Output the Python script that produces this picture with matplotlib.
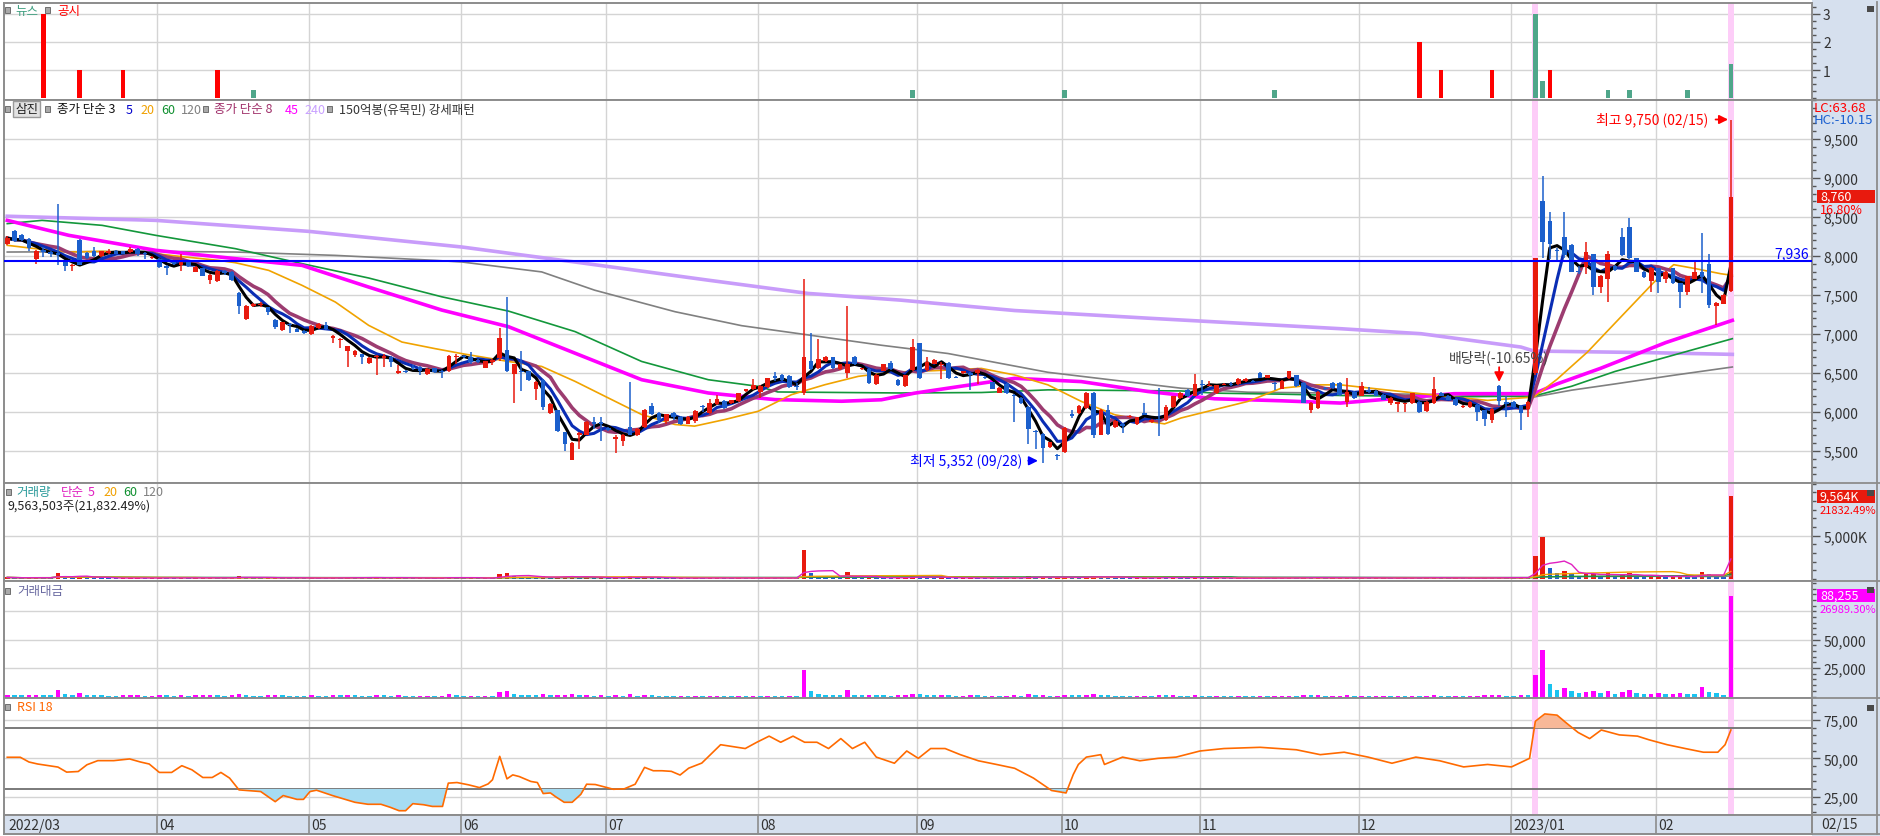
import numpy as np
import pandas as pd
import matplotlib
matplotlib.use("Agg")
import matplotlib.pyplot as plt
from matplotlib.patches import Rectangle
from matplotlib.lines import Line2D
from matplotlib.ticker import FixedLocator, MultipleLocator, FixedFormatter

plt.rcParams['font.family'] = ['Noto Sans CJK KR', 'DejaVu Sans']

# ------------------------------------------------------------------ data
month_starts = [0, 21, 42, 63, 83, 104, 126, 146, 165, 187, 208, 228]
month_labels = ['2022/03', '04', '05', '06', '07', '08', '09', '10', '11', '12', '2023/01', '02']
last_date_label = '02/15'

opens = [
    8150, 8320, 8270, 8220, 7960, 8080, 8050, 8040, 7930, 7870,
    8210, 8040, 8060, 8000, 8040, 8060, 8060, 8050, 8090, 8040,
    7970, 7960, 7870, 7930, 7880, 7930, 7800, 7840, 7690, 7680,
    7810, 7800, 7530, 7190, 7360, 7370, 7340, 7180, 7050, 7130,
    7070, 7040, 7000, 7080, 7110, 6950, 6920, 6780, 6730, 6740,
    6630, 6700, 6700, 6710, 6500, 6530, 6580, 6580, 6490, 6560,
    6530, 6530, 6700, 6720, 6700, 6670, 6570, 6640, 6690, 6790,
    6490, 6530, 6520, 6300, 6410, 5990, 6020, 5740, 5390, 5710,
    5710, 5870, 5870, 5800, 5660, 5630, 5810, 5710, 5810, 6080,
    5990, 5880, 5990, 5940, 5850, 5890, 6080, 5990, 6100, 6140,
    6110, 6140, 6270, 6290, 6260, 6320, 6460, 6480, 6460, 6330,
    6250, 6650, 6560, 6650, 6700, 6550, 6500, 6710, 6550, 6550,
    6360, 6530, 6630, 6410, 6330, 6540, 6880, 6540, 6620, 6600,
    6630, 6450, 6500, 6500, 6500, 6450, 6380, 6250, 6360, 6220,
    6180, 6070, 5760, 5720, 5550, 5450, 5490, 5970, 5990, 6050,
    6250, 5710, 6030, 5810, 5850, 5930, 5840, 5980, 5870, 5910,
    5900, 6060, 6180, 6280, 6210, 6360, 6340, 6240, 6350, 6360,
    6360, 6400, 6400, 6500, 6440, 6370, 6300, 6430, 6470, 6370,
    6030, 6050, 6310, 6370, 6370, 6130, 6260, 6210, 6280, 6270,
    6220, 6110, 6110, 6100, 6110, 6130, 6010, 6110, 6240, 6210,
    6170, 6060, 6060, 6090, 6020, 5900, 6330, 6120, 6130, 6080,
    6040, 6500, 8710, 8450, 8080, 8240, 8140, 7810, 7860, 8020,
    7600, 7710, 7870, 8240, 8370, 7970, 7800, 7680, 7840, 7710,
    7840, 7650, 7540, 7710, 7800, 7900, 7360, 7390, 7550]

highs = [
    8260, 8330, 8280, 8230, 8080, 8120, 8060, 8670, 7940, 7900,
    8220, 8050, 8110, 8070, 8090, 8080, 8070, 8110, 8100, 8050,
    8000, 7970, 7880, 7940, 8030, 7940, 7870, 7850, 7770, 7820,
    7820, 7810, 7540, 7370, 7400, 7410, 7350, 7190, 7160, 7140,
    7080, 7050, 7110, 7140, 7150, 6990, 6950, 6850, 6790, 6750,
    6700, 6730, 6740, 6720, 6600, 6540, 6600, 6590, 6560, 6570,
    6540, 6730, 6750, 6730, 6770, 6680, 6660, 6680, 7080, 7470,
    6620, 6780, 6530, 6400, 6420, 6110, 6030, 5750, 5610, 5740,
    5880, 5930, 5940, 5810, 5700, 5720, 6380, 5790, 6040, 6120,
    6000, 5980, 6000, 5950, 5950, 6020, 6090, 6170, 6220, 6150,
    6160, 6250, 6300, 6420, 6340, 6440, 6510, 6490, 6470, 6370,
    7700, 7010, 6930, 6720, 6710, 6620, 7360, 6720, 6570, 6560,
    6490, 6620, 6660, 6420, 6480, 6930, 6890, 6700, 6680, 6640,
    6640, 6460, 6530, 6510, 6550, 6460, 6390, 6320, 6370, 6230,
    6190, 6080, 5770, 5730, 5620, 5460, 5810, 6030, 6090, 6260,
    6260, 6040, 6090, 5900, 5860, 5960, 5940, 6120, 5910, 6310,
    6090, 6210, 6260, 6290, 6490, 6410, 6400, 6350, 6370, 6380,
    6430, 6430, 6410, 6510, 6480, 6380, 6410, 6530, 6480, 6380,
    6130, 6270, 6320, 6380, 6380, 6430, 6270, 6380, 6320, 6280,
    6230, 6190, 6130, 6120, 6250, 6140, 6140, 6450, 6260, 6220,
    6180, 6090, 6140, 6100, 6030, 6050, 6340, 6210, 6140, 6090,
    6140, 7980, 9030, 8560, 8100, 8560, 8150, 7870, 8180, 8030,
    7760, 8070, 7880, 8360, 8490, 7980, 7810, 7860, 7850, 7810,
    7850, 7660, 7750, 7930, 8300, 8030, 7410, 7510, 9750]

lows = [
    8140, 8180, 8190, 8060, 7900, 7990, 7990, 7890, 7810, 7810,
    7880, 7960, 7990, 7990, 8030, 8020, 8020, 8040, 8000, 7960,
    7960, 7850, 7760, 7880, 7810, 7860, 7790, 7740, 7640, 7670,
    7760, 7680, 7260, 7180, 7350, 7350, 7240, 7060, 7040, 7010,
    7020, 7000, 6990, 7070, 7050, 6880, 6820, 6580, 6700, 6620,
    6620, 6470, 6580, 6580, 6490, 6500, 6540, 6480, 6480, 6500,
    6430, 6510, 6620, 6690, 6620, 6630, 6560, 6600, 6650, 6510,
    6110, 6270, 6400, 6160, 6020, 5980, 5750, 5500, 5380, 5530,
    5700, 5780, 5630, 5760, 5480, 5560, 5700, 5690, 5800, 5960,
    5860, 5850, 5900, 5830, 5840, 5860, 6000, 5980, 6090, 6040,
    6100, 6130, 6260, 6280, 6180, 6310, 6400, 6400, 6310, 6280,
    6220, 6540, 6550, 6640, 6550, 6540, 6440, 6600, 6540, 6360,
    6350, 6520, 6540, 6330, 6320, 6530, 6420, 6530, 6610, 6420,
    6420, 6430, 6490, 6280, 6360, 6420, 6290, 6240, 6230, 5870,
    6100, 5590, 5520, 5352, 5540, 5380, 5480, 5920, 5980, 6040,
    5670, 5700, 5710, 5800, 5730, 5920, 5830, 5960, 5860, 5690,
    5890, 6050, 6170, 6190, 6200, 6220, 6330, 6230, 6340, 6330,
    6350, 6390, 6380, 6430, 6430, 6280, 6290, 6420, 6320, 6110,
    5990, 6040, 6280, 6300, 6210, 6060, 6170, 6200, 6250, 6200,
    6150, 6090, 6000, 6000, 6100, 5990, 6000, 6100, 6200, 6150,
    6080, 6050, 6050, 5890, 5820, 5860, 6080, 5940, 6050, 5770,
    5940, 6480, 7970, 7960, 7920, 7970, 7790, 7770, 7770, 7500,
    7520, 7410, 7810, 8000, 7960, 7790, 7720, 7540, 7520, 7650,
    7640, 7330, 7500, 7700, 7520, 7330, 7110, 7380, 7540]

closes = [
    8230, 8190, 8200, 8100, 8070, 8050, 8020, 8010, 7870, 7890,
    7890, 7970, 8000, 8060, 8060, 8030, 8030, 8090, 8030, 8020,
    7990, 7860, 7850, 7900, 7940, 7870, 7860, 7750, 7760, 7810,
    7780, 7690, 7360, 7360, 7380, 7390, 7280, 7090, 7150, 7110,
    7030, 7010, 7100, 7130, 7060, 6980, 6940, 6840, 6780, 6700,
    6690, 6720, 6710, 6640, 6530, 6510, 6560, 6520, 6550, 6510,
    6510, 6720, 6720, 6700, 6640, 6640, 6650, 6670, 6950, 6520,
    6610, 6510, 6410, 6390, 6070, 6100, 5760, 5590, 5600, 5730,
    5870, 5840, 5840, 5770, 5680, 5710, 5710, 5780, 6030, 5970,
    5900, 5970, 5930, 5850, 5940, 6010, 6060, 6110, 6170, 6050,
    6150, 6240, 6290, 6350, 6330, 6430, 6440, 6410, 6320, 6320,
    6700, 6550, 6680, 6700, 6560, 6610, 6610, 6610, 6560, 6370,
    6480, 6610, 6550, 6340, 6470, 6830, 6430, 6640, 6670, 6620,
    6440, 6440, 6520, 6480, 6540, 6430, 6300, 6310, 6240, 6210,
    6110, 5780, 5750, 5540, 5610, 5440, 5800, 5950, 6080, 6250,
    5710, 6030, 5720, 5890, 5820, 5950, 5930, 5970, 5900, 5900,
    6060, 6200, 6250, 6200, 6360, 6340, 6350, 6340, 6360, 6340,
    6420, 6420, 6390, 6440, 6470, 6360, 6400, 6520, 6330, 6120,
    6120, 6260, 6290, 6310, 6220, 6260, 6180, 6330, 6260, 6210,
    6160, 6180, 6120, 6110, 6240, 6000, 6130, 6300, 6210, 6160,
    6090, 6080, 6130, 6000, 5910, 6040, 6140, 6110, 6060, 5990,
    6130, 7970, 8180, 8160, 8060, 8010, 7800, 7800, 8050, 7600,
    7750, 8030, 7820, 8010, 7970, 7800, 7730, 7850, 7670, 7800,
    7650, 7540, 7740, 7800, 7730, 7370, 7400, 7500, 8760]

# volume, thousand shares
volume_k = [
    180, 150, 120, 160, 200, 140, 120, 650, 260, 150,
    380, 200, 150, 120, 100, 90, 110, 130, 140, 100,
    110, 160, 150, 100, 170, 110, 120, 140, 150, 130,
    100, 140, 330, 220, 110, 100, 130, 200, 150, 120,
    110, 90, 130, 110, 100, 150, 140, 230, 160, 130,
    120, 180, 140, 130, 200, 100, 90, 110, 120, 100,
    130, 280, 150, 110, 120, 100, 120, 110, 520, 650,
    380, 260, 180, 170, 300, 200, 260, 280, 330, 200,
    220, 150, 190, 110, 170, 140, 360, 130, 250, 150,
    120, 110, 100, 110, 100, 120, 110, 130, 140, 110,
    100, 120, 110, 140, 120, 130, 110, 100, 120, 100,
    3300, 750, 380, 200, 180, 150, 820, 250, 140, 180,
    150, 140, 130, 150, 160, 330, 280, 180, 150, 170,
    160, 100, 110, 150, 140, 100, 120, 110, 130, 170,
    130, 300, 200, 260, 150, 160, 280, 200, 160, 220,
    320, 260, 240, 150, 130, 110, 120, 140, 100, 230,
    170, 180, 140, 130, 200, 120, 100, 110, 100, 90,
    110, 100, 90, 120, 100, 110, 120, 130, 120, 170,
    150, 160, 100, 110, 130, 170, 110, 140, 100, 100,
    110, 100, 120, 110, 140, 120, 130, 200, 110, 100,
    110, 90, 100, 130, 150, 160, 190, 140, 110, 170,
    150, 2600, 4850, 1300, 700, 900, 650, 380, 550, 620,
    400, 640, 300, 520, 700, 380, 260, 330, 360, 240,
    300, 380, 290, 260, 820, 520, 420, 230, 9564]

# trading value, million KRW
amount_m = [
    1480, 1230, 990, 1300, 1610, 1130, 970, 5400, 2050, 1180,
    3050, 1600, 1200, 970, 800, 720, 890, 1050, 1130, 800,
    880, 1260, 1170, 790, 1340, 870, 940, 1090, 1160, 1010,
    780, 1090, 2450, 1600, 810, 740, 950, 1430, 1070, 850,
    780, 630, 920, 780, 710, 1040, 970, 1570, 1080, 870,
    800, 1200, 930, 860, 1310, 650, 590, 720, 790, 650,
    850, 1860, 1010, 740, 800, 670, 790, 730, 3530, 4500,
    2450, 1700, 1160, 1070, 1880, 1210, 1530, 1600, 1830, 1130,
    1270, 870, 1100, 640, 950, 790, 2100, 740, 1470, 900,
    710, 650, 590, 650, 590, 710, 660, 780, 850, 670,
    610, 740, 690, 880, 760, 830, 710, 650, 770, 640,
    23700, 5000, 2520, 1340, 1190, 990, 5600, 1660, 920, 1160,
    970, 920, 860, 960, 1030, 2220, 1850, 1190, 1000, 1120,
    1040, 640, 720, 970, 910, 640, 760, 700, 820, 1060,
    800, 1780, 1140, 1460, 830, 870, 1570, 1190, 960, 1360,
    1910, 1530, 1400, 880, 760, 650, 710, 830, 590, 1400,
    1020, 1110, 870, 810, 1260, 760, 640, 700, 640, 570,
    700, 640, 580, 770, 640, 700, 760, 840, 780, 1060,
    910, 1000, 630, 700, 820, 1080, 690, 880, 630, 630,
    680, 610, 730, 670, 860, 730, 800, 1280, 690, 620,
    670, 550, 610, 790, 900, 960, 1180, 850, 670, 1030,
    910, 19300, 40700, 10600, 5700, 7300, 5200, 3000, 4400, 4800,
    3050, 5000, 2350, 4250, 5700, 2990, 2010, 2560, 2790, 1880,
    2330, 2840, 2200, 2020, 8500, 4000, 3150, 1720, 88255]

# news / disclosure counts
news_idx = [34, 125, 146, 175, 211, 212, 221, 224, 232, 238]
news_cnt = [0.3, 0.3, 0.3, 0.3, 3.0, 0.6, 0.3, 0.3, 0.3, 1.2]
disc_idx = [5, 10, 16, 29, 195, 198, 205, 213]
disc_cnt = [3, 1, 1, 1, 2, 1, 1, 1]

# long moving averages (index, price)
ma20_x = [0, 3.9, 8.5, 13.1, 20.5, 24.6, 29.2, 31.5, 36.1, 40.7, 45.3, 49.9, 54.5, 59.1, 62.8, 69.2, 73.8,
          78.4, 83, 87.6, 92.2, 94.9, 99.1, 103.7, 108.3, 112.9, 117.5, 122, 128, 134.5, 139.1, 143.7, 148.3,
          152.9, 157.5, 159.8, 162.1, 166.7, 171.3, 175.9, 180.5, 184.1, 195.2, 204.4, 210.8, 214, 218.2,
          222.8, 227.4, 230.1, 233, 236.6, 238.2]
ma20_y = [8137, 8094, 8051, 8060, 8030, 7987, 7944, 7914, 7816, 7624, 7410, 7111, 6897, 6812, 6748, 6648, 6584,
          6393, 6180, 5968, 5840, 5819, 5904, 6010, 6223, 6350, 6457, 6510, 6530, 6559, 6475, 6348, 6136,
          5966, 5881, 5848, 5924, 6030, 6136, 6305, 6348, 6348, 6235, 6149, 6192, 6420, 6769,
          7218, 7666, 7889, 7840, 7773, 7752]
ma45_x = [0, 8.5, 20.5, 31.5, 40.7, 49.9, 60, 69.2, 78.4, 87.6, 96.8, 106, 115.2, 120.7, 125.3, 134.5, 139.1,
          148.3, 157.5, 166.7, 175.9, 184.1, 199.8, 210.8, 214, 220, 229, 238.2]
ma45_y = [8457, 8265, 8073, 7966, 7880, 7602, 7307, 7094, 6754, 6414, 6244, 6159, 6138, 6157, 6242, 6369, 6432,
          6390, 6263, 6170, 6144, 6115, 6235, 6235, 6360, 6560, 6890, 7175]
ma60_x = [0, 4.8, 13.1, 20.5, 31.5, 40.7, 49.9, 60, 69.2, 78.4, 87.6, 96.8, 103.7, 106.4, 123.4, 134.5, 143.7,
          162.1, 166.7, 175.9, 184.1, 200, 210.8, 216, 222, 227.4, 238.2]
ma60_y = [8415, 8457, 8393, 8265, 8094, 7902, 7718, 7477, 7294, 7031, 6648, 6414, 6329, 6257, 6244, 6250, 6284,
          6270, 6242, 6229, 6212, 6195, 6205, 6330, 6520, 6660, 6940]
ma120_x = [0, 20.5, 31.5, 45.3, 59.1, 62.8, 73.8, 81.1, 92.2, 101.4, 110.6, 120.7, 129.9, 143.7, 162.1, 171.3,
           184.1, 200, 210.8, 216, 222, 230, 238.2]
ma120_y = [8051, 8060, 8051, 8008, 7944, 7923, 7796, 7562, 7286, 7107, 6988, 6856, 6750, 6509, 6305, 6254,
           6242, 6220, 6192, 6280, 6360, 6470, 6577]
ma240_x = [0, 20.5, 41.6, 62.8, 78.4, 96.8, 110.6, 123.4, 139.1, 157.5, 184.1, 195.2, 209, 210.8, 227.4, 238.2]
ma240_y = [8510, 8457, 8316, 8115, 7923, 7690, 7520, 7434, 7301, 7203, 7068, 7004, 6833, 6782, 6760, 6739]

# RSI(18) (index, value)
rsi_x = [0, 1.8, 3, 4.2, 5.5, 7, 8.2, 9.8, 11, 12.5, 14.7, 16.9, 18.4, 19.6, 21, 22.7, 24.1, 25.5, 27, 28.3,
         29.5, 30.7, 32, 35, 37, 38.1, 40, 40.9, 41.8, 42.7, 44.9, 48, 49.8, 51.6, 52.9, 54.1, 55, 56, 57.5,
         58.7, 60.1, 60.9, 62.1, 63.7, 65.2, 66.4, 67, 68, 69, 69.8, 70.7, 72.3, 73.2, 74, 75, 75.7, 76.9, 78,
         79.2, 80, 81.2, 82.4, 83.7, 85.2, 86.7, 88, 89.2, 90.4, 91.7, 92.9, 94.1, 95.9,
         98.5, 101.9, 103.5, 105.2, 106.8, 108.5, 110.1, 111.8, 113.4, 115.1, 116.7, 118.4, 120, 122.5,
         124.2, 125.8, 127.5, 129.5, 131.6, 134.1, 136.6, 139.1, 141.7, 144.2, 146.2, 147.2, 147.9, 149,
         151, 151.5, 154, 156.4, 158.9, 161.4, 164.7, 168, 173, 178, 181.3, 184.6, 187.9, 191.2, 194.5,
         197.8, 201.1, 204.4, 207.7, 210.2, 211, 212.3, 214, 215.2, 216.9, 218.5, 220.1, 222.6, 225.1,
         226.7, 229.2, 231.7, 234.2, 236.2, 237.2, 238]
rsi_y = [50.7, 50.7, 47.6, 46.3, 45.4, 44.3, 41.0, 41.4, 45.8, 48.5, 48.5, 49.6, 47.6, 46.3, 40.8, 40.8, 45.2,
         42.5, 37.5, 37.5, 40.8, 37.1, 29.4, 28.3, 21.7, 25.7, 23.2, 23.2, 28.3, 29.2, 25.7, 21.3, 20.0, 20.0,
         18.0, 15.8, 15.8, 20.4, 19.7, 18.6, 18.6, 33.8, 34.2, 32.7, 30.9, 33.3, 36.0, 51.3, 36.6, 39.2, 38.1,
         34.9, 34.2, 27.0, 27.4, 25.0, 21.3, 21.3, 26.5, 33.1, 32.9, 31.4, 29.8, 30.1, 33.1, 44.1, 41.9, 41.9,
         41.5, 39.1, 43.6, 46.9,
         58.9, 56.4, 60.5, 64.5, 60.5, 64.5, 60.5, 60.5, 56.4, 62.9, 56.4, 60.5, 50.8, 46.8,
         54.8, 50.0, 56.4, 56.4, 52.4, 48.4, 46.0, 43.5, 37.1, 29.0, 27.4, 39.5, 46.0, 50.8,
         52.4, 46.0, 50.8, 48.4, 50.0, 50.8, 54.8, 56.4, 57.2, 55.6, 52.4, 54.0, 50.8, 46.8, 50.8,
         48.4, 44.4, 46.0, 44.4, 50.0, 74.2, 79.0, 78.2, 73.4, 66.9, 62.9, 68.5, 65.3, 64.5,
         62.1, 58.9, 56.4, 54.0, 54.0, 58.9, 68.5]

# ------------------------------------------------------------------ figure
W, H = 1880, 837
fig = plt.figure(figsize=(W / 100, H / 100), dpi=100)
fig.patch.set_facecolor('white')

AXBG = '#d6e0ee'
GRID = '#d4d4d4'
SPINE = '#8c8c8c'
RED = '#e81a0e'
BLUE = '#1b5fcc'
PINK = '#fdcdf8'
XR = 1812


def rect(top, bottom):
    return [4 / W, 1 - bottom / H, (XR - 4) / W, (bottom - top) / H]


fig.add_artist(Rectangle((XR / W, 0), (W - XR) / W, 1, transform=fig.transFigure,
                         facecolor=AXBG, edgecolor='none', zorder=-5))

ax_n = fig.add_axes(rect(4, 101))
ax_p = fig.add_axes(rect(101, 484))
ax_v = fig.add_axes(rect(484, 582))
ax_a = fig.add_axes(rect(582, 699))
ax_r = fig.add_axes(rect(699, 816))
ax_x = fig.add_axes(rect(816, 835))

n = len(closes)
x = np.arange(n)
o = np.array(opens, float)
h = np.array(highs, float)
l = np.array(lows, float)
c = np.array(closes, float)
XMIN, XMAX = -0.45, 249.2
grid_x = [m - 0.35 for m in month_starts[1:]]
bands = [211, 238]

for ax in (ax_n, ax_p, ax_v, ax_a, ax_r, ax_x):
    ax.set_xlim(XMIN, XMAX)
    ax.set_xticks([])
    for s in ax.spines.values():
        s.set_color(SPINE)
        s.set_linewidth(1.4)
    ax.yaxis.tick_right()
    ax.tick_params(axis='y', which='major', direction='out', length=6, width=1, colors='#555555',
                   labelsize=10, labelcolor='#333333', pad=2)
    ax.tick_params(axis='y', which='minor', direction='out', length=3, width=1, colors='#555555')
    if ax is not ax_x:
        for gx in grid_x:
            ax.axvline(gx, color=GRID, lw=1, zorder=0)
        for b in bands:
            ax.axvspan(b - 0.42, b + 0.42, color=PINK, lw=0, zorder=0.5)

# ---------------- news panel
ax_n.set_ylim(-0.07, 3.39)
for gy in (1, 2, 3):
    ax_n.axhline(gy, color=GRID, lw=1, zorder=0)
ax_n.bar(disc_idx, disc_cnt, width=0.62, color='#ff0000', zorder=3)
ax_n.bar(news_idx, news_cnt, width=0.62, color='#4fa68a', zorder=3)
ax_n.yaxis.set_major_locator(FixedLocator([1, 2, 3]))
ax_n.yaxis.set_minor_locator(MultipleLocator(0.25))

# ---------------- price panel
ax_p.set_ylim(5090, 10000)
for gy in range(5500, 10000, 500):
    ax_p.axhline(gy, color=GRID, lw=1, zorder=0)

ax_p.plot(ma240_x, ma240_y, color='#c89cfa', lw=2.6, zorder=2)
ax_p.plot(ma120_x, ma120_y, color='#808080', lw=1.2, zorder=2)
ax_p.plot(ma60_x, ma60_y, color='#13973b', lw=1.2, zorder=2)
ax_p.plot(ma45_x, ma45_y, color='#ff00ff', lw=2.6, zorder=2)
ax_p.plot(ma20_x, ma20_y, color='#f0a300', lw=1.2, zorder=2)

cs = pd.Series(c)
ma8 = cs.rolling(8, min_periods=1).mean()
ma5 = cs.rolling(5, min_periods=1).mean()
ma3 = cs.rolling(3, min_periods=1).mean()
ax_p.plot(x, ma8, color='#9c3c70', lw=2.6, zorder=3)
ax_p.plot(x, ma5, color='#0a2db4', lw=2.2, zorder=3)
ax_p.plot(x, ma3, color='black', lw=2.2, zorder=3)

up = c >= o
col = np.where(up, RED, BLUE)
ax_p.vlines(x, l, h, colors=col, lw=1.1, zorder=4)
bb = np.minimum(o, c)
bh = np.abs(c - o)
small = bh < 14
bb = np.where(small, (o + c) / 2 - 7, bb)
bh = np.where(small, 14, bh)
ax_p.bar(x, bh, bottom=bb, width=0.64, color=col, lw=0, zorder=5)

ax_p.axhline(7936, color='#0000ff', lw=1.5, zorder=6)
ax_p.text(248.8, 7945, '7,936', color='#0000ff', fontsize=10, ha='right', va='bottom', zorder=7)

ax_p.text(234.9, 9750, '최고 9,750 (02/15)', color='#ff0000', fontsize=10, ha='right', va='center', zorder=7)
ax_p.annotate('', xy=(238.0, 9750), xytext=(235.5, 9750),
              arrowprops=dict(arrowstyle='-|>', color='#ff0000', lw=1.3, mutation_scale=13), zorder=7)
ax_p.text(140.2, 5375, '최저 5,352 (09/28)', color='#0000ff', fontsize=10, ha='right', va='center', zorder=7)
ax_p.annotate('', xy=(142.7, 5375), xytext=(140.6, 5375),
              arrowprops=dict(arrowstyle='-|>', color='#0000ff', lw=1.3, mutation_scale=13), zorder=7)
ax_p.text(206, 6705, '배당락(-10.65%)', color='#444444', fontsize=10, ha='center', va='center', zorder=7)
ax_p.annotate('', xy=(206, 6350), xytext=(206, 6610),
              arrowprops=dict(arrowstyle='-|>', color='#ff0000', lw=1.3, mutation_scale=14), zorder=7)

ax_p.yaxis.set_major_locator(FixedLocator(list(range(5500, 10000, 500))))
ax_p.yaxis.set_major_formatter(FixedFormatter([f'{v:,}' for v in range(5500, 10000, 500)]))
ax_p.yaxis.set_minor_locator(MultipleLocator(100))

# ---------------- volume panel
vol = np.array(volume_k, float)
prev_v = np.concatenate([[vol[0]], vol[:-1]])
vcol = np.where(vol >= prev_v, RED, BLUE)
ax_v.set_ylim(-231, 11085)
ax_v.axhline(5000, color=GRID, lw=1, zorder=0)
ax_v.bar(x, vol, width=0.62, color=vcol, lw=0, zorder=3)
vs = pd.Series(vol)
ax_v.plot(x, vs.rolling(120, min_periods=1).mean(), color='#808080', lw=1, zorder=4)
ax_v.plot(x, vs.rolling(60, min_periods=1).mean(), color='#13973b', lw=1, zorder=4)
ax_v.plot(x, vs.rolling(20, min_periods=1).mean(), color='#f0a300', lw=1, zorder=4)
ax_v.plot(x, vs.rolling(5, min_periods=1).mean(), color='#e020c0', lw=1, zorder=4)
ax_v.yaxis.set_major_locator(FixedLocator([5000]))
ax_v.yaxis.set_major_formatter(FixedFormatter(['5,000K']))
ax_v.yaxis.set_minor_locator(MultipleLocator(1000))

# ---------------- trading value panel
amt = np.array(amount_m, float)
prev_a = np.concatenate([[amt[0]], amt[:-1]])
acol = np.where(amt >= prev_a, '#ff00ff', '#19c3f0')
ax_a.set_ylim(-1320, 101700)
for gy in (25000, 50000, 75000):
    ax_a.axhline(gy, color=GRID, lw=1, zorder=0)
ax_a.bar(x, amt, width=0.62, color=acol, lw=0, zorder=3)
ax_a.yaxis.set_major_locator(FixedLocator([25000, 50000]))
ax_a.yaxis.set_major_formatter(FixedFormatter(['25,000', '50,000']))
ax_a.yaxis.set_minor_locator(MultipleLocator(5000))

# ---------------- RSI panel
ax_r.set_ylim(13.0, 89.4)
for gy in (25, 50, 75):
    ax_r.axhline(gy, color=GRID, lw=1, zorder=0)
ax_r.axhline(70, color='#707070', lw=1.3, zorder=1)
ax_r.axhline(30, color='#707070', lw=1.3, zorder=1)
rx = np.array(rsi_x)
ry = np.array(rsi_y)
ax_r.fill_between(rx, ry, 30, where=ry < 30, interpolate=True, color='#a6dcf2', lw=0, zorder=2)
ax_r.fill_between(rx, ry, 70, where=ry > 70, interpolate=True, color='#f8b898', lw=0, zorder=2)
ax_r.plot(rx, ry, color='#ff6a00', lw=1.2, zorder=3)
ax_r.yaxis.set_major_locator(FixedLocator([25, 50, 75]))
ax_r.yaxis.set_major_formatter(FixedFormatter(['25,00', '50,00', '75,00']))
ax_r.yaxis.set_minor_locator(MultipleLocator(5))

# ---------------- date band
ax_x.set_facecolor(AXBG)
ax_x.set_ylim(0, 1)
ax_x.set_yticks([])
for gx in grid_x:
    ax_x.axvline(gx, color=SPINE, lw=1.2)
for m, lab in zip(month_starts, month_labels):
    ax_x.text(m - 0.05 if m else 0.1, 0.45, lab, fontsize=10, color='#333333', ha='left', va='center')


# ---------------- header texts
def ftext(px, py, s, color, size=9, **kw):
    return fig.text(px / W, 1 - py / H, s, color=color, fontsize=size, va='center', **kw)


def square(px, py):
    fig.add_artist(Rectangle((px / W, 1 - (py + 3) / H), 5 / W, 6 / H, transform=fig.transFigure,
                             facecolor='#a9a9a9', edgecolor='#6e6e6e', lw=0.7, zorder=6))


square(5, 11)
ftext(15, 11, '뉴스', '#3f9f80')
square(45, 11)
ftext(57, 11, '공시', '#ff0000')

square(5, 110)
ftext(26.5, 110, '삼진', '#222222', ha='center',
      bbox=dict(boxstyle='square,pad=0.15', fc='#e2e2e2', ec='#9a9a9a', lw=1))
square(45, 110)
ftext(57, 110, '종가 단순 3', '#111111')
ftext(126, 110, '5', '#0000cc')
ftext(140, 110, '20', '#f0a000')
ftext(161, 110, '60', '#109030')
ftext(181, 110, '120', '#808080')
square(203, 110)
ftext(214, 110, '종가 단순 8', '#a0306a')
ftext(285, 110, '45', '#ff00ff')
ftext(304, 110, '240', '#c8a0ff')
square(327, 110)
ftext(339, 110, '150억봉(유목민) 강세패턴', '#333333')

square(6, 493)
ftext(16, 493, '거래량', '#2a9a9a')
ftext(61, 493, '단순', '#e020c0')
ftext(88, 493, '5', '#e020c0')
ftext(103, 493, '20', '#f0a000')
ftext(123, 493, '60', '#109030')
ftext(143, 493, '120', '#808080')
ftext(7, 506, '9,563,503주(21,832.49%)', '#222222')

square(5, 592)
ftext(17, 592, '거래대금', '#6868a0')

square(5, 708)
ftext(17, 708, 'RSI 18', '#ff6600')

# ---------------- right-side value tags
ftext(1814, 109, 'LC:63.68', '#ff0000', size=9.5)
ftext(1814, 121, 'HC:-10.15', '#1a5fd0', size=9.5)


def tag(py, s, fc):
    fig.add_artist(Rectangle((1817 / W, 1 - (py + 6.5) / H), 58 / W, 13 / H, transform=fig.transFigure,
                             facecolor=fc, edgecolor='none', zorder=6))
    ftext(1820, py, s, 'white', size=9, zorder=7)


tag(197, '8,760', '#e81a0e')
ftext(1820, 211, '16.80%', '#ff0000', size=9, zorder=7)
tag(497, '9,564K', '#e81a0e')
ftext(1820, 511, '21832.49%', '#ff0000', size=8, zorder=7)
tag(596, '88,255', '#ff00ff')
ftext(1820, 610, '26989.30%', '#ff00ff', size=8, zorder=7)
ftext(1821, 825, last_date_label, '#333333', size=10)

for py in (7, 491, 588, 706):
    fig.add_artist(Rectangle((1867 / W, 1 - (py + 6) / H), 7 / W, 6 / H, transform=fig.transFigure,
                             facecolor='#4a4a4a', edgecolor='none', zorder=6))

for py in (101, 484, 582, 699, 816, 835):
    fig.add_artist(Line2D([XR / W, 1], [1 - py / H, 1 - py / H], transform=fig.transFigure,
                          color=SPINE, lw=1.3, zorder=5))
fig.add_artist(Line2D([1877 / W, 1877 / W], [1 - 835 / H, 1 - 3 / H], transform=fig.transFigure,
                      color=SPINE, lw=1.3, zorder=5))

fig.savefig('out.png', dpi=100, facecolor='white')
